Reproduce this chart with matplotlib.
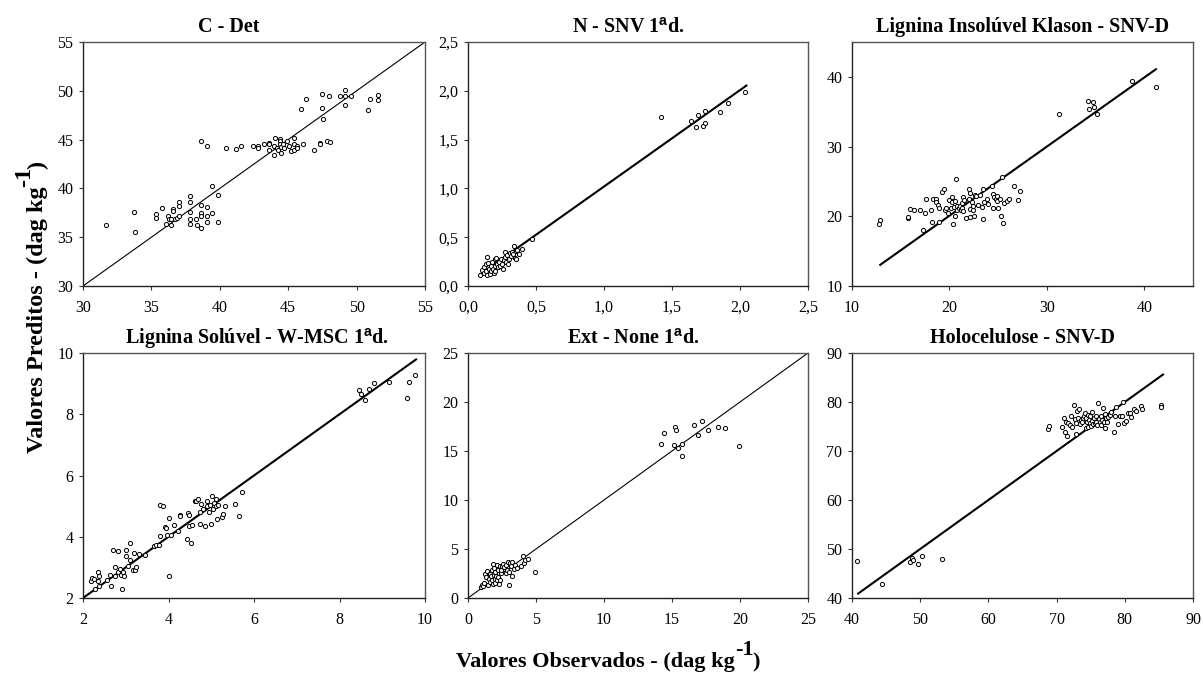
import matplotlib
matplotlib.use("Agg")
import matplotlib.pyplot as plt
from matplotlib.ticker import FuncFormatter

plt.rcParams["font.family"] = ["Liberation Serif", "DejaVu Serif"]
plt.rcParams["mathtext.fontset"] = "custom"
plt.rcParams["mathtext.rm"] = "Liberation Serif"
plt.rcParams["mathtext.bf"] = "Liberation Serif:bold"
plt.rcParams["mathtext.sf"] = "Liberation Sans:bold"

# --- C - Det ---
c_obs = [31.7, 33.76, 33.8, 35.3, 35.3, 35.8, 36.05, 36.2, 36.25, 36.4, 36.45, 36.6, 36.6,
         36.75, 36.9, 37.0, 37.0, 37.0, 37.85, 37.85, 37.85, 37.85, 37.85, 38.25, 38.3,
         38.65, 38.65, 38.65, 38.65, 38.65, 39.05, 39.05, 39.07, 39.07, 39.46, 39.46, 39.9,
         39.9, 40.45, 41.15, 41.55, 42.4, 42.8, 42.8, 43.2, 43.56, 43.56, 43.56, 43.95,
         43.97, 44.0, 44.15, 44.27, 44.4, 44.4, 44.4, 44.44, 44.5, 44.63, 44.7, 44.9, 45.05,
         45.2, 45.4, 45.4, 45.4, 45.65, 45.65, 45.9, 46.1, 46.3, 46.9, 47.3, 47.3, 47.5,
         47.5, 47.55, 47.85, 47.95, 48.05, 48.75, 49.15, 49.15, 49.15, 49.56, 50.8, 50.95,
         51.6, 51.6]
c_pred = [36.2, 37.6, 35.5, 37.4, 37.0, 38.0, 36.4, 37.2, 36.9, 36.25, 36.9, 37.9, 37.7,
          36.9, 37.0, 37.2, 38.6, 38.2, 39.2, 38.65, 37.6, 36.9, 36.4, 36.9, 36.2,
          44.85, 38.25, 37.5, 37.2, 35.95, 44.3, 38.05, 37.15, 36.6, 40.2, 37.5, 39.3,
          36.6, 44.1, 44.0, 44.35, 44.35, 44.35, 44.15, 44.5, 44.7, 44.5, 43.95, 44.35,
          43.4, 45.15, 44.1, 43.9, 45.1, 44.9, 44.55, 43.6, 44.2, 44.6, 44.1, 44.85, 44.35,
          43.8, 45.2, 44.55, 43.95, 44.3, 44.15, 48.1, 44.6, 49.15, 43.95, 44.7, 44.55, 49.7,
          48.25, 47.15, 44.9, 49.5, 44.8, 49.5, 50.05, 49.5, 48.55, 49.5, 48.0, 49.15,
          49.6, 49.1]

# --- N - SNV 1a d. ---
n_obs = [0.09, 0.105, 0.118, 0.118, 0.13, 0.135, 0.142, 0.142, 0.15, 0.154, 0.16, 0.167,
         0.17, 0.18, 0.184, 0.19, 0.196, 0.2, 0.2, 0.208, 0.213, 0.22, 0.228, 0.233, 0.24,
         0.248, 0.255, 0.262, 0.27, 0.275, 0.282, 0.29, 0.297, 0.3, 0.306, 0.314, 0.32,
         0.33, 0.336, 0.343, 0.35, 0.355, 0.363, 0.375, 0.395, 0.473,
         1.42, 1.64, 1.68, 1.69, 1.727, 1.74, 1.74, 1.85, 1.91, 2.04]
n_pred = [0.116, 0.16, 0.136, 0.194, 0.228, 0.15, 0.296, 0.109, 0.238, 0.177, 0.126, 0.21,
          0.15, 0.245, 0.17, 0.136, 0.279, 0.21, 0.15, 0.286, 0.228, 0.194, 0.245, 0.21,
          0.272, 0.228, 0.17, 0.262, 0.347, 0.296, 0.245, 0.313, 0.228, 0.279, 0.34, 0.306,
          0.347, 0.33, 0.405, 0.286, 0.354, 0.279, 0.364, 0.33, 0.38, 0.483,
          1.735, 1.69, 1.633, 1.75, 1.64, 1.673, 1.79, 1.786, 1.87, 1.986]

# --- Lignina Insoluvel Klason - SNV-D ---
lk_obs = [12.8, 12.9, 15.74, 15.77, 15.95, 16.4, 17.0, 17.25, 17.5, 17.56, 18.14, 18.25,
          18.35, 18.6, 18.6, 18.83, 18.93, 18.93, 19.2, 19.4, 19.5, 19.62, 19.86, 19.97,
          20.14, 20.24, 20.3, 20.4, 20.48, 20.55, 20.58, 20.65, 20.76, 20.82, 21.0, 21.1,
          21.17, 21.27, 21.34, 21.4, 21.44, 21.5, 21.65, 21.96, 22.06, 22.1, 22.13, 22.16,
          22.27, 22.4, 22.47, 22.5, 22.65, 22.75, 22.96, 23.1, 23.33, 23.4, 23.44, 23.57,
          23.85, 23.99, 24.36, 24.5, 24.5, 24.6, 24.74, 24.85, 24.9, 24.98, 25.22, 25.33,
          25.43, 25.5, 25.57, 25.88, 26.12, 26.67, 27.0, 27.2,
          31.24, 34.23, 34.36, 34.74, 34.85, 35.12, 38.76, 41.17]
lk_pred = [18.94, 19.4, 19.8, 19.94, 21.08, 20.94, 20.84, 18.04, 20.41, 22.46, 20.84, 19.18,
           22.46, 22.55, 21.98, 21.65, 21.22, 19.18, 23.46, 23.9, 20.9, 21.22, 20.5, 22.27,
           21.22, 22.74, 22.08, 18.94, 21.27, 20.08, 22.22, 25.3, 20.94, 21.5, 21.13, 21.5,
           20.84, 21.22, 21.94, 20.8, 22.74, 22.27, 19.7, 22.55, 23.98, 23.4, 21.0, 19.94,
           22.08, 20.94, 21.41, 19.99, 23.08, 22.93, 21.6, 23.03, 21.27, 23.9, 19.65, 21.98,
           22.55, 21.7, 24.3, 21.17, 23.17, 22.7, 22.55, 22.93, 22.22, 21.13, 22.46, 19.99,
           25.64, 19.08, 21.84, 22.13, 22.46, 24.36, 22.36, 23.6,
           34.73, 36.49, 35.4, 36.34, 35.63, 34.63, 39.39, 38.53]

# --- Lignina Soluvel - W-MSC 1a d. ---
ls_obs = [2.19, 2.22, 2.26, 2.27, 2.35, 2.36, 2.37, 2.37, 2.55, 2.62, 2.66, 2.7, 2.74, 2.76,
          2.81, 2.82, 2.86, 2.9, 2.92, 2.93, 2.95, 3.0, 3.01, 3.06, 3.09, 3.1, 3.17, 3.19,
          3.21, 3.25, 3.32, 3.46, 3.67, 3.71, 3.78, 3.79, 3.81, 3.88, 3.91, 3.95, 3.96,
          4.02, 4.0, 4.06, 4.14, 4.22, 4.28, 4.28, 4.43, 4.45, 4.48, 4.49, 4.53, 4.55, 4.61,
          4.65, 4.7, 4.73, 4.74, 4.76, 4.8, 4.86, 4.89, 4.9, 4.94, 4.97, 5.0, 5.01, 5.04,
          5.06, 5.1, 5.11, 5.13, 5.16, 5.24, 5.27, 5.33, 5.55, 5.66, 5.72,
          8.46, 8.5, 8.6, 8.7, 8.81, 9.15, 9.58, 9.62, 9.76]
ls_pred = [2.54, 2.65, 2.62, 2.29, 2.54, 2.84, 2.73, 2.4, 2.6, 2.75, 2.38, 3.56, 3.0, 2.73,
           3.53, 2.84, 2.95, 2.75, 2.29, 2.84, 2.71, 3.58, 3.36, 3.06, 3.25, 3.8, 2.92, 3.47,
           2.92, 3.0, 3.45, 3.41, 3.69, 3.74, 3.74, 5.05, 4.01, 4.99, 4.32, 4.29, 4.05,
           2.71, 4.62, 4.05, 4.4, 4.18, 4.71, 4.67, 3.93, 4.77, 4.34, 4.72, 3.78, 4.37, 5.18,
           5.18, 5.23, 4.82, 4.43, 5.06, 4.9, 4.34, 4.99, 5.17, 4.82, 5.04, 4.43, 5.32, 4.9,
           5.1, 5.23, 5.01, 4.58, 5.04, 4.64, 4.74, 5.02, 5.08, 4.69, 5.46,
           8.78, 8.66, 8.47, 8.82, 9.02, 9.04, 8.52, 9.04, 9.27]

# --- Ext - None 1a d. ---
ext_obs = [0.98, 1.05, 1.1, 1.17, 1.22, 1.29, 1.41, 1.46, 1.51, 1.59, 1.63, 1.71, 1.76, 1.78,
           1.83, 1.85, 1.9, 1.93, 1.95, 2.0, 2.02, 2.07, 2.1, 2.15, 2.2, 2.24, 2.27, 2.32,
           2.37, 2.39, 2.44, 2.51, 2.56, 2.68, 2.76, 2.8, 2.88, 2.93, 2.98, 3.05, 3.1, 3.17,
           3.22, 3.27, 3.37, 3.46, 3.61, 3.9, 4.05, 4.1, 4.2, 4.39, 4.93,
           14.22, 14.41, 15.17, 15.2, 15.27, 15.41, 15.7, 15.73, 16.59, 16.9, 17.24, 17.63,
           18.37, 18.93, 19.93]
ext_pred = [1.12, 1.36, 1.19, 1.53, 2.48, 2.14, 2.72, 1.36, 1.94, 2.48, 1.6, 2.21, 2.82, 1.8,
            3.47, 1.46, 2.38, 3.06, 1.94, 2.62, 1.53, 2.21, 3.4, 1.8, 2.82, 2.14, 1.46, 3.23,
            1.87, 2.55, 2.82, 3.23, 3.5, 3.16, 2.55, 3.4, 2.82, 3.64, 1.33, 2.62, 3.57, 3.23,
            2.28, 3.64, 2.96, 3.4, 3.06, 3.3, 4.25, 3.57, 3.84, 3.98, 2.62,
            15.71, 16.84, 15.65, 17.45, 17.18, 15.31, 15.75, 14.46, 17.69, 16.63, 18.06, 17.18,
            17.45, 17.31, 15.48]

# --- Holocelulose - SNV-D ---
ho_obs = [40.73, 44.45, 48.46, 48.75, 48.94, 49.63, 50.21, 53.25,
          68.74, 68.84, 70.79, 71.08, 71.18, 71.33, 71.48, 71.72, 71.92, 72.16, 72.26, 72.55,
          72.65, 72.8, 72.89, 73.04, 73.14, 73.28, 73.38, 73.53, 73.68, 73.87, 74.02, 74.16,
          74.26, 74.36, 74.51, 74.6, 74.65, 74.75, 74.85, 74.95, 75.09, 75.14, 75.24, 75.34,
          75.43, 75.58, 75.73, 75.83, 75.97, 76.07, 76.22, 76.32, 76.46, 76.56, 76.71, 76.8,
          76.9, 77.05, 77.15, 77.29, 77.44, 77.59, 77.78, 77.93, 78.47, 78.52, 78.66, 79.0,
          79.25, 79.64, 79.74, 79.88, 80.22, 80.47, 80.71, 80.96, 81.3, 81.69, 82.42, 82.52,
          85.31, 85.31]
ho_pred = [47.45, 42.87, 47.38, 48.2, 47.72, 46.97, 48.54, 47.99,
           74.49, 75.18, 74.84, 76.68, 73.95, 75.96, 73.06, 75.68, 75.27, 77.19, 74.84, 79.41,
           76.54, 73.4, 75.68, 78.25, 76.68, 78.59, 75.52, 76.41, 75.86, 76.68, 77.22, 77.77,
           74.77, 76.68, 75.99, 77.36, 74.84, 76.41, 75.72, 77.08, 75.18, 76.2, 77.9, 75.52,
           76.68, 75.72, 77.08, 75.99, 75.32, 79.75, 76.54, 75.86, 75.32, 77.22, 76.41, 78.73,
           75.86, 77.57, 74.77, 76.68, 75.99, 76.89, 77.36, 77.9, 73.95, 77.22, 78.93, 75.52,
           77.22, 77.08, 79.96, 75.72, 76.2, 77.77, 77.77, 76.89, 78.59, 78.25, 79.28, 78.59,
           79.41, 79.07]

titles = ["C - Det", r"N - SNV 1$^{\mathsf{a}}$d.", "Lignina Insolúvel Klason - SNV-D",
          r"Lignina Solúvel - W-MSC 1$^{\mathsf{a}}$d.", r"Ext - None 1$^{\mathsf{a}}$d.",
          "Holocelulose - SNV-D"]
x_limits = [(30, 55), (0, 2.5), (10, 45), (2, 10), (0, 25), (40, 90)]
y_limits = [(30, 55), (0, 2.5), (10, 45), (2, 10), (0, 25), (40, 90)]
x_ticks = [[30, 35, 40, 45, 50, 55], [0, 0.5, 1.0, 1.5, 2.0, 2.5], [10, 20, 30, 40],
           [2, 4, 6, 8, 10], [0, 5, 10, 15, 20, 25], [40, 50, 60, 70, 80, 90]]
y_ticks = [[30, 35, 40, 45, 50, 55], [0, 0.5, 1.0, 1.5, 2.0, 2.5], [10, 20, 30, 40],
           [2, 4, 6, 8, 10], [0, 5, 10, 15, 20, 25], [40, 50, 60, 70, 80, 90]]
# fitted line per panel: x start, x end, slope, intercept
fit_x0 = [30, 0.086, 12.9, 2.0, 0, 40.9]
fit_x1 = [55, 2.047, 41.2, 9.79, 25, 85.6]
fit_slope = [1.0, 0.988, 0.9915, 1.0, 1.0, 1.0]
fit_icpt = [0.0, 0.031, 0.25, 0.0, 0.0, 0.0]

observed = [c_obs, n_obs, lk_obs, ls_obs, ext_obs, ho_obs]
predicted = [c_pred, n_pred, lk_pred, ls_pred, ext_pred, ho_pred]

W, H = 1203.0, 682.0


def comma_fmt(v, pos):
    return f"{v:.1f}".replace(".", ",")


def label_with_sup(fig, main, sup, tail, cx, cy, vertical=False, size=16, rise=12):
    """Bold label with a full-size raised superscript, centred on (cx, cy) in pixels."""
    renderer = fig.canvas.get_renderer()
    # (text, rise, extra kerning in px before the piece)
    parts = [(main, 0, 0), (sup, rise, 0), (tail, 0, -2)]
    widths = []
    for s, _, _ in parts:
        t = fig.text(0, 0, s, fontsize=size, fontweight="bold")
        widths.append(t.get_window_extent(renderer).width)
        t.remove()
    pos = -(sum(widths) - 2) / 2.0
    for (s, r, k), w in zip(parts, widths):
        pos += k
        if vertical:
            x, y = cx - r, cy + pos
        else:
            x, y = cx + pos, cy + r
        fig.text(x / W, y / H, s, fontsize=size, fontweight="bold",
                 ha="left", va="baseline", rotation=90 if vertical else 0,
                 rotation_mode="anchor")
        pos += w


def draw_panels(output_file="out.png"):
    fig = plt.figure(figsize=(12.03, 6.82), dpi=100)
    # pixel boxes (left, right) and (top, bottom)
    cols = [(83, 425), (468, 808), (852, 1193)]
    rows = [(42, 286), (353, 598)]
    title_x = [0.427, 0.47, 0.5, 0.51, 0.487, 0.5]

    for i in range(6):
        r, c = divmod(i, 3)
        l, rr = cols[c]
        t, b = rows[r]
        ax = fig.add_axes([l / W, 1 - b / H, (rr - l) / W, (b - t) / H])

        ax.scatter(observed[i], predicted[i], s=9, facecolors="white",
                   edgecolors="black", linewidths=0.7, zorder=3)

        lw = 0.8 if i in (0, 4) else 1.5
        xs = [fit_x0[i], fit_x1[i]]
        ys = [fit_slope[i] * x + fit_icpt[i] for x in xs]
        ax.plot(xs, ys, color="black", lw=lw, zorder=2)

        ax.set_xlim(*x_limits[i])
        ax.set_ylim(*y_limits[i])
        ax.set_xticks(x_ticks[i])
        ax.set_yticks(y_ticks[i])
        if i == 1:
            ax.xaxis.set_major_formatter(FuncFormatter(comma_fmt))
            ax.yaxis.set_major_formatter(FuncFormatter(comma_fmt))

        ax.tick_params(direction="out", length=3, width=0.8, color="#333333",
                       labelsize=11.5)
        ax.tick_params(axis="x", pad=7)
        ax.tick_params(axis="y", pad=4)
        for name, sp in ax.spines.items():
            sp.set_color("#222222" if name in ("left", "bottom") else "#555555")
            sp.set_linewidth(1.0)

        ttl = ax.set_title(titles[i], fontsize=14.5, fontweight="bold", pad=7)
        ttl.set_x(title_x[i])

    # axis labels, positions in pixels from the bottom-left corner
    label_with_sup(fig, "Valores Preditos - (dag kg", "-1", ")", 43, H - 307,
                   vertical=True, size=17.5, rise=13)
    label_with_sup(fig, "Valores Observados - (dag kg", "-1", ")", 608, H - 667)

    fig.savefig(output_file, dpi=100, facecolor="white")
    plt.close(fig)


if __name__ == "__main__":
    draw_panels()
